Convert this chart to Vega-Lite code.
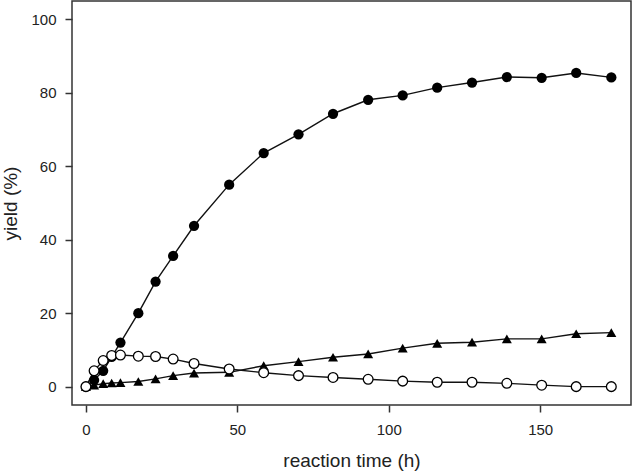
{
  "$schema": "https://vega.github.io/schema/vega-lite/v6.json",
  "width": 559,
  "height": 404,
  "autosize": "none",
  "padding": {"left": 72, "top": 1, "right": 2, "bottom": 67},
  "background": "white",
  "config": {
    "view": {"stroke": "#333", "strokeWidth": 1.5},
    "axis": {
      "grid": false, "domain": false, "tickColor": "#333", "tickSize": 7, "tickWidth": 1.5,
      "labelFont": "Liberation Sans", "labelFontSize": 15, "labelColor": "#222",
      "titleFont": "Liberation Sans", "titleFontSize": 19, "titleFontWeight": "normal", "titleColor": "#222"
    }
  },
  "data": {"values": [
    {"s": "A", "t": 0, "y": 0}, {"s": "A", "t": 2.7, "y": 1.8}, {"s": "A", "t": 5.7, "y": 4.3}, {"s": "A", "t": 8.5, "y": 8.1},
    {"s": "A", "t": 11.4, "y": 12}, {"s": "A", "t": 17.3, "y": 20}, {"s": "A", "t": 23, "y": 28.6}, {"s": "A", "t": 28.8, "y": 35.6},
    {"s": "A", "t": 35.7, "y": 43.8}, {"s": "A", "t": 47.3, "y": 55}, {"s": "A", "t": 58.7, "y": 63.6}, {"s": "A", "t": 70.2, "y": 68.7},
    {"s": "A", "t": 81.6, "y": 74.3}, {"s": "A", "t": 93.2, "y": 78.1}, {"s": "A", "t": 104.6, "y": 79.3}, {"s": "A", "t": 116, "y": 81.4},
    {"s": "A", "t": 127.5, "y": 82.8}, {"s": "A", "t": 139, "y": 84.3}, {"s": "A", "t": 150.5, "y": 84.1}, {"s": "A", "t": 161.9, "y": 85.4},
    {"s": "A", "t": 173.5, "y": 84.2},
    {"s": "B", "t": 0, "y": 0}, {"s": "B", "t": 2.7, "y": 4.3}, {"s": "B", "t": 5.7, "y": 7.1}, {"s": "B", "t": 8.5, "y": 8.5},
    {"s": "B", "t": 11.4, "y": 8.6}, {"s": "B", "t": 17.3, "y": 8.3}, {"s": "B", "t": 23, "y": 8.2}, {"s": "B", "t": 28.8, "y": 7.5},
    {"s": "B", "t": 35.7, "y": 6.3}, {"s": "B", "t": 47.3, "y": 4.8}, {"s": "B", "t": 58.7, "y": 3.8}, {"s": "B", "t": 70.2, "y": 3.0},
    {"s": "B", "t": 81.6, "y": 2.5}, {"s": "B", "t": 93.2, "y": 2.0}, {"s": "B", "t": 104.6, "y": 1.5}, {"s": "B", "t": 116, "y": 1.2},
    {"s": "B", "t": 127.5, "y": 1.2}, {"s": "B", "t": 139, "y": 0.9}, {"s": "B", "t": 150.5, "y": 0.4}, {"s": "B", "t": 161.9, "y": 0},
    {"s": "B", "t": 173.5, "y": 0},
    {"s": "C", "t": 0, "y": 0}, {"s": "C", "t": 2.7, "y": 0.4}, {"s": "C", "t": 5.7, "y": 0.8}, {"s": "C", "t": 8.5, "y": 1.0},
    {"s": "C", "t": 11.4, "y": 1.1}, {"s": "C", "t": 17.3, "y": 1.4}, {"s": "C", "t": 23, "y": 2.1}, {"s": "C", "t": 28.8, "y": 3.0},
    {"s": "C", "t": 35.7, "y": 3.7}, {"s": "C", "t": 47.3, "y": 3.9}, {"s": "C", "t": 58.7, "y": 5.7}, {"s": "C", "t": 70.2, "y": 6.8},
    {"s": "C", "t": 81.6, "y": 8.0}, {"s": "C", "t": 93.2, "y": 8.9}, {"s": "C", "t": 104.6, "y": 10.5}, {"s": "C", "t": 116, "y": 11.8},
    {"s": "C", "t": 127.5, "y": 12.1}, {"s": "C", "t": 139, "y": 13.0}, {"s": "C", "t": 150.5, "y": 13.0}, {"s": "C", "t": 161.9, "y": 14.4},
    {"s": "C", "t": 173.5, "y": 14.7}
  ]},
  "encoding": {
    "x": {"field": "t", "type": "quantitative", "scale": {"domain": [-4.6, 180], "nice": false, "zero": false},
          "axis": {"title": "reaction time (h)", "values": [0, 50, 100, 150], "labelPadding": 10, "titlePadding": 14}},
    "y": {"field": "y", "type": "quantitative", "scale": {"domain": [-5, 105], "nice": false, "zero": false},
          "axis": {"title": "yield (%)", "values": [0, 20, 40, 60, 80, 100], "labelPadding": 9, "titlePadding": 10}}
  },
  "layer": [
    {"mark": {"type": "line", "color": "#111", "strokeWidth": 1.4}, "encoding": {"detail": {"field": "s"}}},
    {"transform": [{"filter": "datum.s === 'A'"}], "mark": {"type": "point", "shape": "circle", "filled": true, "color": "#000", "size": 105, "opacity": 1}},
    {"transform": [{"filter": "datum.s === 'C'"}], "mark": {"type": "point", "shape": "triangle-up", "filled": true, "color": "#000", "size": 100, "opacity": 1}},
    {"transform": [{"filter": "datum.s === 'B'"}], "mark": {"type": "point", "shape": "circle", "filled": true, "fill": "white", "stroke": "#000", "strokeWidth": 1.3, "size": 95, "opacity": 1}}
  ]
}
